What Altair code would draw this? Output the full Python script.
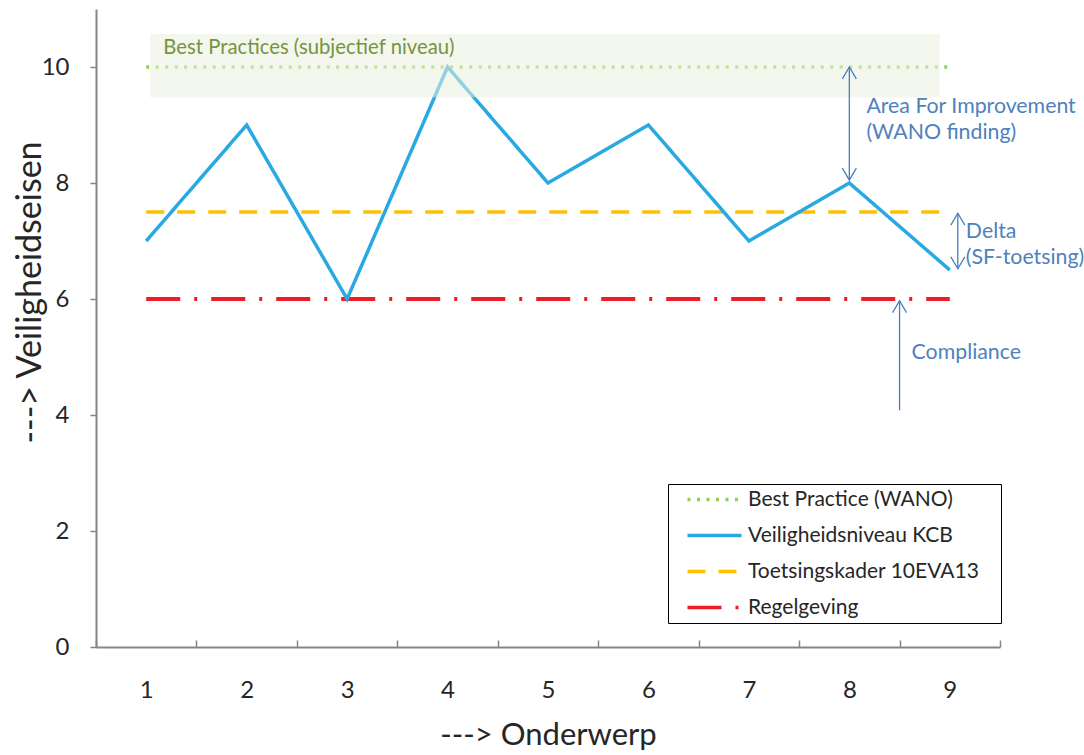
import altair as alt
import pandas as pd

# ---------------- data ----------------
categories = [1, 2, 3, 4, 5, 6, 7, 8, 9]
best_practice = [10, 10, 10, 10, 10, 10, 10, 10, 10]
kcb = [7, 9, 6, 10, 8, 9, 7, 8, 6.5]
toetsingskader = [7.5, 7.5, 7.5, 7.5, 7.5, 7.5, 7.5, 7.5, 7.5]
regelgeving = [6, 6, 6, 6, 6, 6, 6, 6, 6]

series_names = ["Best Practice (WANO)", "Veiligheidsniveau KCB",
                "Toetsingskader 10EVA13", "Regelgeving"]
series_values = [best_practice, kcb, toetsingskader, regelgeving]
series_colors = ["#92d050", "#29a9e1", "#ffc000", "#ee1c25"]
series_dashes = [[3, 6.5], [1, 0], [18, 13], [34, 14, 3, 14]]
series_widths = [3.5, 3.5, 3.5, 4]

y_ticks = [0, 2, 4, 6, 8, 10]

# annotations (data coordinates)
band_label = ["Best Practices (subjectief niveau)"]
band_x = [1.04]; band_x2 = [8.9]; band_y = [9.48]; band_y2 = [10.57]
band_text_x = [1.17]; band_text_y = [10.33]

arrow_x = [8.0, 9.08, 8.5]
arrow_y = [10, 7.48, 5.97]
arrow_y2 = [8.05, 6.52, 4.08]

head_x = [8.0, 8.0, 9.08, 9.08, 8.5]
head_y = [10, 8.05, 7.48, 6.52, 5.97]
head_dir = ["up", "down", "up", "down", "up"]

note_text = ["Area For Improvement", "(WANO finding)", "Delta", "(SF-toetsing)", "Compliance"]
note_x = [8.17, 8.17, 9.16, 9.16, 8.62]
note_y = [9.31, 8.86, 7.16, 6.71, 5.07]

# ---------------- frames ----------------
rows = []
for name, vals in zip(series_names, series_values):
    for c, v in zip(categories, vals):
        rows.append({"series": name, "x": c, "y": v})
lines_df = pd.DataFrame(rows)

band_df = pd.DataFrame({"x": band_x, "x2": band_x2, "y": band_y, "y2": band_y2})
band_text_df = pd.DataFrame({"t": band_label, "x": band_text_x, "y": band_text_y})
arrow_df = pd.DataFrame({"x": arrow_x, "y": arrow_y, "y2": arrow_y2})
head_df = pd.DataFrame({"x": head_x, "y": head_y, "dir": head_dir})
note_df = pd.DataFrame({"t": note_text, "x": note_x, "y": note_y})

# ---------------- scales / axes ----------------
W, H = 904, 638
AX = "#868686"
TXT = "#262626"
NOTE = "#4a7ebb"
FONT = "Lato"

xscale = alt.Scale(domain=[categories[0] - 0.5, categories[-1] + 0.5], nice=False, zero=False)
yscale = alt.Scale(domain=[0, 11], nice=False, zero=True)

x_bottom = alt.Axis(orient="bottom", values=categories, format="d", tickSize=0,
                    labelPadding=43, labelBaseline="middle", labelFont=FONT,
                    labelFontSize=24, labelColor=TXT, domainColor=AX, domainWidth=2,
                    grid=False, title="---> Onderwerp", titleFont=FONT,
                    titleFontSize=31, titleFontWeight="normal", titleColor=TXT,
                    titleY=88, titleBaseline="middle")
tick_vals = [c - 0.5 for c in categories] + [categories[-1] + 0.5]
x_ticks = alt.Axis(orient="top", offset=-H, values=tick_vals, labels=False,
                   domain=False, ticks=True, tickSize=7, tickColor=AX, tickWidth=1.5,
                   grid=False, title=None)
y_axis = alt.Axis(values=y_ticks, tickSize=6, tickColor=AX, tickWidth=1.5,
                  domainColor=AX, domainWidth=2, labelPadding=21,
                  labelFont=FONT, labelFontSize=24, labelColor=TXT,
                  grid=False, title="---> Veiligheidseisen", titleFont=FONT,
                  titleFontSize=34, titleFontWeight="normal", titleColor=TXT,
                  titleX=-66, titleY=283, titleBaseline="middle", titleAngle=270)

Y = alt.Y("y:Q", scale=yscale, axis=y_axis)

PAD = "\u00a0" * 3 + "\u200b"
legend = alt.Legend(orient="none", legendX=572, legendY=475, title=None,
                    symbolType="M0.571,0L8.286,0", symbolSize=196,
                    symbolStrokeWidth=3.5, labelFont=FONT, labelFontSize=21,
                    labelColor=TXT, labelOffset=54, labelLimit=500,
                    rowPadding=14, padding=5,
                    strokeColor="#000000", fillColor="#ffffff",
                    labelExpr="datum.label + '" + PAD + "'")
color_scale = alt.Scale(domain=series_names, range=series_colors)
dash_scale = alt.Scale(domain=series_names, range=series_dashes)


def line_layer(idx, axis):
    name = series_names[idx]
    return alt.Chart(lines_df).transform_filter(
        alt.datum.series == name
    ).mark_line(strokeWidth=series_widths[idx]).encode(
        x=alt.X("x:Q", scale=xscale, axis=axis),
        y=Y,
        color=alt.Color("series:N", scale=color_scale, legend=legend),
        strokeDash=alt.StrokeDash("series:N", scale=dash_scale, legend=legend),
    )


green = line_layer(0, x_bottom)
orange = line_layer(2, None)
red = line_layer(3, None)
blue = line_layer(1, None)

band = alt.Chart(band_df).mark_rect(fill="#ebf1de", opacity=0.55).encode(
    x=alt.X("x:Q", scale=xscale, axis=x_ticks), x2="x2:Q",
    y=Y, y2="y2:Q")

band_text = alt.Chart(band_text_df).mark_text(
    align="left", baseline="middle", font=FONT, fontSize=20.3, color="#77933c"
).encode(x=alt.X("x:Q", scale=xscale, axis=None), y=Y, text="t:N")

shafts = alt.Chart(arrow_df).mark_rule(color=NOTE, strokeWidth=1.3).encode(
    x=alt.X("x:Q", scale=xscale, axis=None), y=Y, y2="y2:Q")

heads = alt.Chart(head_df).mark_point(filled=False, color=NOTE, strokeWidth=1.3,
                                      size=196, opacity=1).encode(
    x=alt.X("x:Q", scale=xscale, axis=None), y=Y,
    shape=alt.Shape("dir:N", scale=alt.Scale(domain=["up", "down"],
                    range=["M-1,1.7L0,0L1,1.7", "M-1,-1.7L0,0L1,-1.7"]), legend=None))

notes = alt.Chart(note_df).mark_text(
    align="left", baseline="middle", font=FONT, fontSize=21.3, color="#4f81bd"
).encode(x=alt.X("x:Q", scale=xscale, axis=None), y=Y, text="t:N")

chart = alt.layer(
    green, orange, red, blue, band, band_text, shafts, heads, notes
).resolve_axis(x="independent").properties(
    width=W, height=H,
    autosize=alt.AutoSizeParams(type="none"),
    padding={"left": 96, "top": 9, "right": 84, "bottom": 108},
).configure_view(stroke=None)

chart.save("out.html", embed_options={"renderer": "svg", "actions": False})
